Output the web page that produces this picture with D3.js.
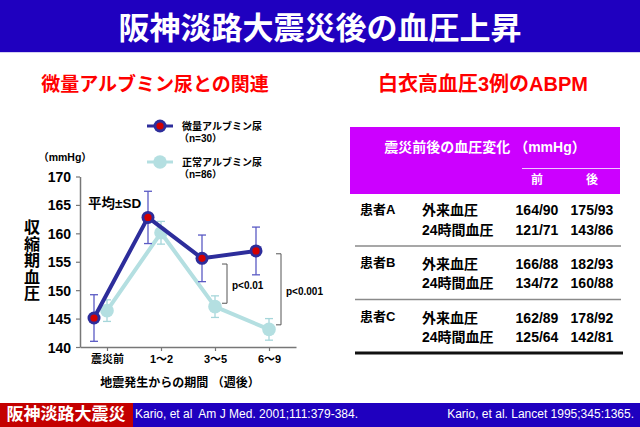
<!DOCTYPE html>
<html>
<head>
<meta charset="utf-8">
<script src="https://cdn.jsdelivr.net/npm/d3@7/dist/d3.min.js"></script>
<style>
  body { margin: 0; background: #fff; }
  svg text { font-family: "Liberation Sans", "Noto Sans CJK JP", sans-serif; }
</style>
</head>
<body>
<div id="js-chart"></div>
<script>
// chart data
const periods = ['震災前', '1～2', '3～5', '6～9'];
const microMean = [145.1, 162.8, 155.6, 156.9];
const microSD = [4.1, 4.6, 4.1, 4.2];
const normalMean = [146.4, 160.1, 147.1, 143.1];
const normalSD = [1.9, 2.0, 1.9, 1.9];
const yTicks = [140, 145, 150, 155, 160, 165, 170];
const pTests = [
  { period: '3～5', lo: 147.7, hi: 154.6, label: 'p<0.01' },
  { period: '6～9', lo: 143.9, hi: 156.4, label: 'p<0.001' }
];

// table data
const patients = ['患者A', '患者B', '患者C'];
const measures = ['外来血圧', '24時間血圧'];
const bpBefore = [['164/90', '121/71'], ['166/88', '134/72'], ['162/89', '125/64']];
const bpAfter = [['175/93', '143/86'], ['182/93', '160/88'], ['178/92', '142/81']];

const blue = '#1f00bf';
const darkLine = '#2d2d9b';
const lightLine = '#b4dfe1';

const svg = d3.select('#js-chart').append('svg')
  .attr('width', 640).attr('height', 427);

// title bar
svg.append('rect').attr('x', 0).attr('y', 0).attr('width', 640).attr('height', 52).attr('fill', blue);
svg.append('line').attr('x1', 0).attr('x2', 640).attr('y1', 52.5).attr('y2', 52.5)
  .attr('stroke', '#d4d0f2').attr('stroke-width', 1);
svg.append('text').attr('x', 320).attr('y', 28)
  .attr('text-anchor', 'middle').attr('dominant-baseline', 'central')
  .attr('fill', '#fff').attr('font-size', 31).attr('font-weight', 'bold')
  .text('阪神淡路大震災後の血圧上昇');

// subtitles
svg.append('text').attr('x', 155).attr('y', 84).attr('text-anchor', 'middle')
  .attr('dominant-baseline', 'central').attr('fill', '#ff0000')
  .attr('font-size', 19).attr('font-weight', 'bold').text('微量アルブミン尿との関連');
svg.append('text').attr('x', 483).attr('y', 84).attr('text-anchor', 'middle')
  .attr('dominant-baseline', 'central').attr('fill', '#ff0000')
  .attr('font-size', 20).attr('font-weight', 'bold').text('白衣高血圧3例のABPM');

// scales
const x = d3.scalePoint().domain(periods).range([80, 296]).padding(0.5);
const y = d3.scaleLinear().domain([140, 170]).range([347, 176.5]);
const darkShift = -13;

// axes
const gx = svg.append('g').attr('transform', 'translate(0,347)')
  .call(d3.axisBottom(x).tickSize(4).tickSizeOuter(0).tickPadding(4));
const gy = svg.append('g').attr('transform', 'translate(80,0)')
  .call(d3.axisLeft(y).tickValues(yTicks).tickSize(4).tickSizeOuter(0).tickPadding(5));
[gx, gy].forEach(g => {
  g.select('.domain').attr('stroke', '#777').attr('stroke-width', 1.5);
  g.selectAll('.tick line').attr('stroke', '#777').attr('stroke-width', 1.2);
  g.selectAll('text').attr('fill', '#000').attr('font-weight', 'bold')
    .style('font-family', '"Liberation Sans", "Noto Sans CJK JP", sans-serif');
});
gx.selectAll('text').attr('font-size', 11);
gy.selectAll('text').attr('font-size', 14).attr('dy', '0.36em');

// axis titles
svg.append('text').attr('x', 65).attr('y', 157).attr('text-anchor', 'middle')
  .attr('dominant-baseline', 'central').attr('font-size', 10.5).attr('font-weight', 'bold')
  .text('（mmHg）');
const yLabel = svg.append('text').attr('x', 32).attr('text-anchor', 'middle')
  .attr('font-size', 16).attr('font-weight', 'bold');
Array.from('収縮期血圧').forEach((ch, i) => {
  yLabel.append('tspan').attr('x', 32).attr('y', 233 + i * 16.5).text(ch);
});
svg.append('text').attr('x', 180).attr('y', 383).attr('text-anchor', 'middle')
  .attr('dominant-baseline', 'central').attr('font-size', 12).attr('font-weight', 'bold')
  .text('地震発生からの期間 （週後）');
svg.append('text').attr('x', 88).attr('y', 203).attr('dominant-baseline', 'central')
  .attr('font-size', 13.5).attr('font-weight', 'bold').text('平均±SD');

// series helpers
function errorBars(means, sds, shift, color) {
  const g = svg.append('g').attr('stroke', color).attr('stroke-width', 1.3).attr('fill', 'none');
  means.forEach((m, i) => {
    const cx = x(periods[i]) + shift;
    g.append('line').attr('x1', cx).attr('x2', cx).attr('y1', y(m - sds[i])).attr('y2', y(m + sds[i]));
    g.append('line').attr('x1', cx - 4).attr('x2', cx + 4).attr('y1', y(m - sds[i])).attr('y2', y(m - sds[i]));
    g.append('line').attr('x1', cx - 4).attr('x2', cx + 4).attr('y1', y(m + sds[i])).attr('y2', y(m + sds[i]));
  });
}
function seriesLine(means, shift, color) {
  const line = d3.line().x((d, i) => x(periods[i]) + shift).y(d => y(d));
  svg.append('path').datum(means).attr('d', line)
    .attr('fill', 'none').attr('stroke', color).attr('stroke-width', 4).attr('stroke-linejoin', 'round');
}
function darkMarker(cx, cy) {
  svg.append('circle').attr('cx', cx).attr('cy', cy).attr('r', 6.5).attr('fill', darkLine);
  svg.append('circle').attr('cx', cx).attr('cy', cy).attr('r', 3.6).attr('fill', '#d40000');
}
function lightMarker(cx, cy) {
  svg.append('circle').attr('cx', cx).attr('cy', cy).attr('r', 6.8).attr('fill', lightLine);
}

// normal albumin series (behind)
errorBars(normalMean, normalSD, 0, '#a6d6da');
seriesLine(normalMean, 0, lightLine);
normalMean.forEach((m, i) => lightMarker(x(periods[i]), y(m)));

// micro albumin series
errorBars(microMean, microSD, darkShift, '#5a5ac4');
seriesLine(microMean, darkShift, darkLine);
microMean.forEach((m, i) => darkMarker(x(periods[i]) + darkShift, y(m)));

// significance brackets
pTests.forEach(p => {
  const bx = x(p.period) + 12;
  svg.append('path')
    .attr('d', `M${bx - 5},${y(p.hi)}H${bx}V${y(p.lo)}H${bx - 5}`)
    .attr('fill', 'none').attr('stroke', '#555').attr('stroke-width', 1);
  svg.append('text').attr('x', bx + 5).attr('y', y((p.hi + p.lo) / 2) + 2)
    .attr('dominant-baseline', 'central').attr('font-size', 10).attr('font-weight', 'bold')
    .text(p.label);
});

// legend
const legend = [
  { name: '微量アルブミン尿', n: '（n=30）', color: darkLine, marker: darkMarker, ly: 126 },
  { name: '正常アルブミン尿', n: '（n=86）', color: lightLine, marker: lightMarker, ly: 162 }
];
legend.forEach(l => {
  svg.append('line').attr('x1', 147).attr('x2', 173).attr('y1', l.ly).attr('y2', l.ly)
    .attr('stroke', l.color).attr('stroke-width', 3);
  l.marker(160, l.ly);
  svg.append('text').attr('x', 182).attr('y', l.ly).attr('dominant-baseline', 'central')
    .attr('font-size', 10).attr('font-weight', 'bold').text(l.name);
  svg.append('text').attr('x', 179).attr('y', l.ly + 12).attr('dominant-baseline', 'central')
    .attr('font-size', 10).attr('font-weight', 'bold').text(l.n);
});

// table
const colX = [537, 592];
svg.append('rect').attr('x', 350).attr('y', 127).attr('width', 270).attr('height', 67).attr('fill', '#cc00ff');
svg.append('text').attr('x', 485).attr('y', 147).attr('text-anchor', 'middle')
  .attr('dominant-baseline', 'central').attr('fill', '#fff').attr('font-size', 14)
  .attr('font-weight', 'bold').text('震災前後の血圧変化 （mmHg）');
svg.append('line').attr('x1', 522).attr('x2', 620).attr('y1', 168.5).attr('y2', 168.5)
  .attr('stroke', '#f0c8ff').attr('stroke-width', 1);
['前', '後'].forEach((t, i) => {
  svg.append('text').attr('x', colX[i]).attr('y', 180).attr('text-anchor', 'middle')
    .attr('dominant-baseline', 'central').attr('fill', '#fff').attr('font-size', 12)
    .attr('font-weight', 'bold').text(t);
});

const rowTop = [210, 263.5, 317.5];
const rowGap = 19.5;
patients.forEach((p, i) => {
  const ry = rowTop[i];
  svg.append('text').attr('x', 360).attr('y', ry - 1).attr('dominant-baseline', 'central')
    .attr('font-size', 13).attr('font-weight', 'bold').text(p);
  measures.forEach((m, j) => {
    const yy = ry + j * rowGap;
    svg.append('text').attr('x', 422).attr('y', yy).attr('dominant-baseline', 'central')
      .attr('font-size', 14).attr('font-weight', 'bold').text(m);
    svg.append('text').attr('x', colX[0]).attr('y', yy).attr('text-anchor', 'middle')
      .attr('dominant-baseline', 'central').attr('font-size', 14).attr('font-weight', 'bold')
      .text(bpBefore[i][j]);
    svg.append('text').attr('x', colX[1]).attr('y', yy).attr('text-anchor', 'middle')
      .attr('dominant-baseline', 'central').attr('font-size', 14).attr('font-weight', 'bold')
      .text(bpAfter[i][j]);
  });
  if (i < patients.length - 1) {
    svg.append('line').attr('x1', 355).attr('x2', 621).attr('y1', ry + 36).attr('y2', ry + 36)
      .attr('stroke', '#8a8a8a').attr('stroke-width', 1.5);
  }
});
svg.append('line').attr('x1', 355).attr('x2', 623).attr('y1', 353).attr('y2', 353)
  .attr('stroke', '#111').attr('stroke-width', 3);

// footer
svg.append('rect').attr('x', 0).attr('y', 403).attr('width', 640).attr('height', 24).attr('fill', blue);
svg.append('rect').attr('x', 0).attr('y', 403).attr('width', 133).attr('height', 24).attr('fill', '#c40000');
svg.append('text').attr('x', 66).attr('y', 414).attr('text-anchor', 'middle')
  .attr('dominant-baseline', 'central').attr('fill', '#fff').attr('font-size', 17)
  .attr('font-weight', 'bold').text('阪神淡路大震災');
svg.append('text').attr('x', 135).attr('y', 414).attr('dominant-baseline', 'central')
  .attr('fill', '#fff').attr('font-size', 12).text('Kario, et al  Am J Med. 2001;111:379-384.')
  .attr('xml:space', 'preserve').style('white-space', 'pre');
svg.append('text').attr('x', 634).attr('y', 414).attr('text-anchor', 'end')
  .attr('dominant-baseline', 'central').attr('fill', '#fff').attr('font-size', 12)
  .text('Kario, et al. Lancet 1995;345:1365.');
</script>
</body>
</html>
